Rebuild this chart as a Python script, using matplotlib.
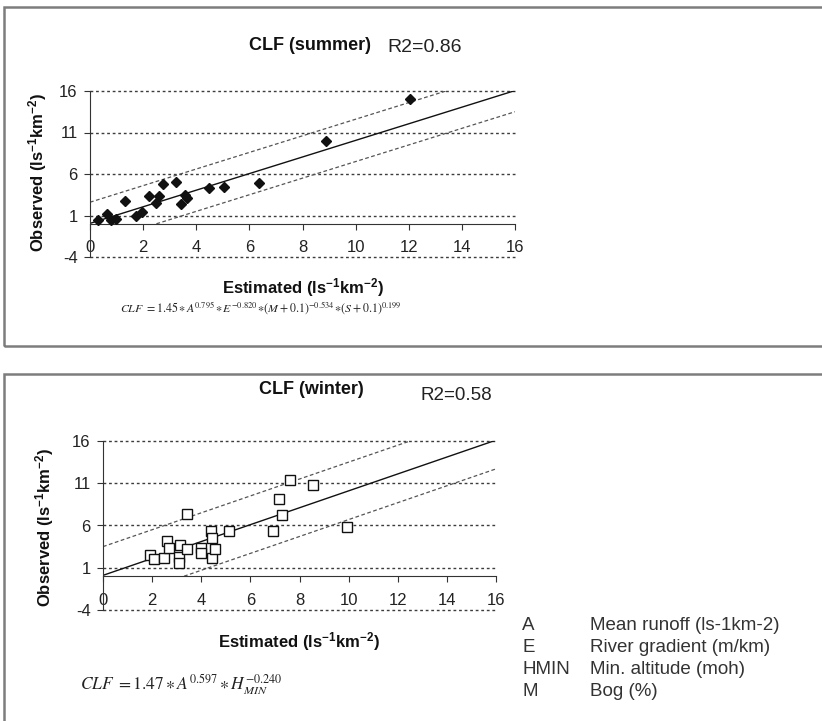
import numpy as np
import matplotlib
matplotlib.use("Agg")
import matplotlib.pyplot as plt
from matplotlib.patches import Rectangle

plt.rcParams['font.family'] = ['Liberation Sans', 'DejaVu Sans']
plt.rcParams['axes.unicode_minus'] = False
plt.rcParams['mathtext.fontset'] = 'custom'
plt.rcParams['mathtext.rm'] = 'Liberation Sans'
plt.rcParams['mathtext.bf'] = 'Liberation Sans:bold'
plt.rcParams['mathtext.it'] = 'Liberation Sans:italic'

# summer: estimated vs observed (ls-1 km-2)
summer_est = [0.31, 0.65, 0.78, 0.96, 1.33, 1.72, 1.95, 2.21, 2.50, 2.60, 2.75,
              3.23, 3.44, 3.56, 3.66, 4.48, 5.03, 6.35, 8.88, 12.06]
summer_obs = [0.40, 1.15, 0.45, 0.58, 2.72, 0.88, 1.48, 3.36, 2.56, 3.40, 4.80,
              5.08, 2.40, 3.48, 3.16, 4.32, 4.48, 4.88, 9.96, 15.08]

# winter
winter_est = [1.90, 2.07, 2.48, 2.61, 2.67, 3.13, 3.10, 3.10, 3.40, 3.40, 3.97, 3.97,
              4.39, 4.44, 4.44, 4.54, 5.14, 6.91, 7.17, 7.27, 7.62, 8.56, 9.93]
winter_obs = [2.46, 1.98, 2.18, 4.12, 3.29, 3.72, 2.26, 1.62, 7.33, 3.17, 3.37, 2.73,
              5.31, 4.55, 2.18, 3.17, 5.35, 5.35, 9.19, 7.25, 11.37, 10.77, 5.86]

# fitted line (slope, intercept) and band half-width
summer_fit = (1.0, 0.05)
summer_band = 2.55
winter_fit = (1.0, 0.1)
winter_band = 3.4

x_ticks = [0, 2, 4, 6, 8, 10, 12, 14, 16]
y_ticks = [-4, 1, 6, 11, 16]

legend_keys = ["A", "E", "HMIN", "M"]
legend_desc = ["Mean runoff (ls-1km-2)", "River gradient (m/km)",
               "Min. altitude (moh)", "Bog (%)"]

W, H = 822, 721


def fx(px):
    return px / W


def fy(py):
    return 1 - py / H


def draw_panel(ax, est, obs, fit, band, marker, mfc):
    ax.set_xlim(0, 16)
    ax.set_ylim(-4, 16)
    ax.hlines(y_ticks, 0, 16, colors='#3c3c3c', linestyles=(0, (2, 2)),
              linewidth=1.0, clip_on=False, zorder=1)
    m, b = fit
    xs = np.array([0, 16])
    ax.plot(xs, m * xs + b, color='#111111', lw=1.0, zorder=2)
    for off in (band, -band):
        x0 = max(0, (0 - b - off) / m)
        x1 = min(16, (16 - b - off) / m)
        xx = np.array([x0, x1])
        ax.plot(xx, m * xx + b + off, color='#555555', lw=0.9,
                dashes=(3, 2), zorder=2)
    ax.plot(est, obs, linestyle='none', marker=marker, ms=5.5 if marker == 'D' else 6.5,
            mfc=mfc, mec='#111111', mew=1.0, zorder=3, clip_on=False)

    for s in ['top', 'right']:
        ax.spines[s].set_visible(False)
    ax.spines['bottom'].set_position(('data', 0))
    ax.spines['bottom'].set_color('#333333')
    ax.spines['left'].set_color('#333333')
    ax.set_xticks(x_ticks)
    ax.set_yticks(y_ticks)
    ax.tick_params(axis='x', direction='out', length=4, pad=8, labelsize=12,
                   color='#333333', labelcolor='#222222')
    ax.tick_params(axis='y', direction='out', length=4, pad=5, labelsize=12,
                   color='#333333', labelcolor='#222222')
    ax.set_facecolor('none')


fig = plt.figure(figsize=(8.22, 7.21), dpi=100)

# frames
fig.add_artist(Rectangle((fx(3.5), fy(346)), 1.0, fy(7) - fy(346),
                         transform=fig.transFigure, fill=False,
                         edgecolor='#7d7d7d', lw=1.8))
fig.add_artist(Rectangle((fx(3.5), fy(740)), 1.0, fy(374) - fy(740),
                         transform=fig.transFigure, fill=False,
                         edgecolor='#7d7d7d', lw=1.8))

# top panel
ax1 = fig.add_axes([fx(90), fy(257), fx(515) - fx(90), fy(91) - fy(257)])
draw_panel(ax1, summer_est, summer_obs, summer_fit, summer_band, 'D', '#111111')

fig.text(fx(310), fy(45), "CLF (summer)", ha='center', va='center',
         fontsize=13, fontweight='bold', color='#111111')
fig.text(fx(387), fy(47), "R2=0.86", ha='left', va='center', fontsize=14,
         color='#222222')
fig.text(fx(38), fy(172), r"Observed (ls$^{\mathbf{-1}}$km$^{\mathbf{-2}}$)",
         rotation=90, ha='center', va='center', fontsize=12, fontweight='bold',
         color='#111111')
fig.text(fx(303), fy(288), r"Estimated (ls$^{\mathbf{-1}}$km$^{\mathbf{-2}}$)",
         ha='center', va='center', fontsize=12, fontweight='bold', color='#111111')
fig.text(fx(120), fy(308),
         r"$CLF\ =1.45\,∗\,A^{0.795}\,∗\,E^{-0.820}\,∗(M+0.1)^{-0.534}\,∗(S+0.1)^{0.199}$",
         ha='left', va='center', fontsize=8.6, math_fontfamily='stix',
         color='#222222')

# bottom panel
ax2 = fig.add_axes([fx(103), fy(610), fx(496) - fx(103), fy(441) - fy(610)])
draw_panel(ax2, winter_est, winter_obs, winter_fit, winter_band, 's', 'white')

fig.text(fx(311), fy(390), "CLF (winter)", ha='center', va='center',
         fontsize=13, fontweight='bold', color='#111111')
fig.text(fx(420), fy(395), "R2=0.58", ha='left', va='center', fontsize=13.5,
         color='#222222')
fig.text(fx(45), fy(527), r"Observed (ls$^{\mathbf{-1}}$km$^{\mathbf{-2}}$)",
         rotation=90, ha='center', va='center', fontsize=12, fontweight='bold',
         color='#111111')
fig.text(fx(299), fy(642), r"Estimated (ls$^{\mathbf{-1}}$km$^{\mathbf{-2}}$)",
         ha='center', va='center', fontsize=12, fontweight='bold', color='#111111')
fig.text(fx(80), fy(685), r"$CLF\ =1.47\,∗\,A^{0.597}\,∗\,H_{MIN}^{-0.240}$",
         ha='left', va='center', fontsize=12.5, math_fontfamily='stix',
         color='#222222')

# variable legend
row_y = [625, 648, 670, 692]
for key, desc, ry in zip(legend_keys, legend_desc, row_y):
    fig.text(fx(522), fy(ry), key, ha='left', va='center', fontsize=13.5,
             color='#333333')
    fig.text(fx(590), fy(ry), desc, ha='left', va='center', fontsize=13.5,
             color='#333333')

fig.savefig("out.png", dpi=100, facecolor='white')
